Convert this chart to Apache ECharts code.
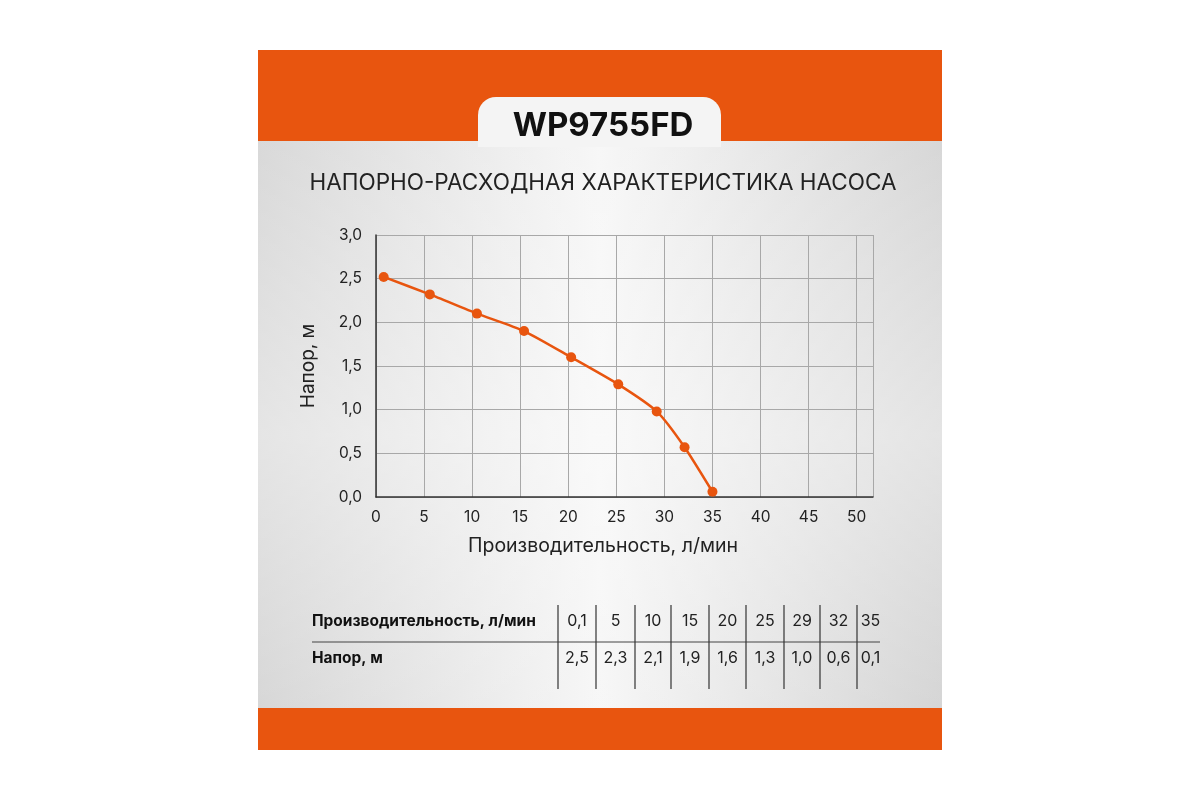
<!DOCTYPE html>
<html><head><meta charset="utf-8">
<script src="https://cdn.jsdelivr.net/npm/echarts@6/dist/echarts.min.js"></script>
<style>html,body{margin:0;background:#fff}#c{width:1200px;height:800px}</style></head>
<body><div id="c"></div>
<script>
const flow = [0.8, 5.6, 10.5, 15.4, 20.3, 25.2, 29.2, 32.1, 35.0];
const head = [2.52, 2.32, 2.1, 1.9, 1.6, 1.29, 0.98, 0.57, 0.06];
const tableFlow = ['0,1','5','10','15','20','25','29','32','35'];
const tableHead = ['2,5','2,3','2,1','1,9','1,6','1,3','1,0','0,6','0,1'];
const colSeps = [558,596,635,671,709,746,784,820,857,884];
const ORANGE = '#E8550F';
const fmt = v => v.toFixed(1).replace('.', ',');

const g = [
  {type:'rect',z:-10,shape:{x:258,y:50,width:684,height:700},style:{fill:{type:'linear',x:0,y:0,x2:1,y2:0,colorStops:[{offset:0,color:'#d0d0d0'},{offset:0.5,color:'#f5f5f5'},{offset:1,color:'#cecece'}]}}},
  {type:'rect',z:-9,shape:{x:258,y:50,width:684,height:700},style:{fill:{type:'linear',x:0,y:0,x2:0,y2:1,colorStops:[{offset:0,color:'rgba(255,255,255,0.1)'},{offset:0.55,color:'rgba(255,255,255,0.45)'},{offset:1,color:'rgba(255,255,255,0.1)'}]}}},
  {type:'rect',z:-8,shape:{x:258,y:50,width:684,height:91},style:{fill:ORANGE}},
  {type:'rect',z:-8,shape:{x:258,y:708,width:684,height:42},style:{fill:ORANGE}},
  {type:'rect',z:-7,shape:{x:478,y:97,width:243,height:50,r:[18,18,0,0]},style:{fill:'#f4f4f4'}},
  {type:'text',style:{x:603,y:126,text:'WP9755FD',fill:'#111',font:'bold 33px Inter, Roboto, sans-serif',align:'center',verticalAlign:'middle'}},
  {type:'text',style:{x:603,y:183,text:'НАПОРНО-РАСХОДНАЯ ХАРАКТЕРИСТИКА НАСОСА',fill:'#222',font:'22.5px Inter, Roboto, sans-serif',align:'center',verticalAlign:'middle'}},
  {type:'text',style:{x:603,y:546,text:'Производительность, л/мин',fill:'#222',font:'19.5px Inter, Roboto, sans-serif',align:'center',verticalAlign:'middle'}},
  {type:'text',style:{x:312,y:621,text:'Производительность, л/мин',fill:'#111',font:'bold 15.5px Inter, Roboto, sans-serif',verticalAlign:'middle'}},
  {type:'text',style:{x:312,y:658,text:'Напор, м',fill:'#111',font:'bold 15.5px Inter, Roboto, sans-serif',verticalAlign:'middle'}},
  {type:'line',shape:{x1:312,y1:642,x2:880,y2:642},style:{stroke:'#444',lineWidth:1.2}}
];
for (let i = 0; i < colSeps.length - 1; i++) {
  g.push({type:'line',shape:{x1:colSeps[i],y1:605,x2:colSeps[i],y2:689},style:{stroke:'#333',lineWidth:1.2}});
  const cx = (colSeps[i] + colSeps[i+1]) / 2;
  g.push({type:'text',style:{x:cx,y:621,text:tableFlow[i],fill:'#222',font:'16px Inter, Roboto, sans-serif',align:'center',verticalAlign:'middle'}});
  g.push({type:'text',style:{x:cx,y:658,text:tableHead[i],fill:'#222',font:'16px Inter, Roboto, sans-serif',align:'center',verticalAlign:'middle'}});
}

const chart = echarts.init(document.getElementById('c'));
chart.setOption({
  animation:false,
  graphic:g,
  grid:{left:376,right:327,top:235,bottom:303},
  xAxis:{type:'value',min:0,max:51.7,interval:5,
    axisLine:{lineStyle:{color:'#333',width:1.5}},axisTick:{show:false},
    axisLabel:{fontSize:15.5,color:'#222',margin:12,showMaxLabel:false,fontFamily:'Inter, Roboto, sans-serif'},
    splitLine:{show:true,lineStyle:{color:'#a8a8a8',width:1}}},
  yAxis:{type:'value',min:0,max:3,interval:0.5,
    name:'Напор, м',nameLocation:'middle',nameGap:58,nameRotate:90,
    nameTextStyle:{fontSize:19,color:'#222',fontFamily:'Inter, Roboto, sans-serif'},
    axisLine:{show:true,lineStyle:{color:'#333',width:1.5}},axisTick:{show:false},
    axisLabel:{fontSize:15.5,color:'#222',margin:14,formatter:fmt,fontFamily:'Inter, Roboto, sans-serif'},
    splitLine:{show:true,lineStyle:{color:'#a8a8a8',width:1}}},
  series:[{type:'line',data:flow.map((x,i)=>[x,head[i]]),smooth:0.2,
    symbol:'circle',symbolSize:10,lineStyle:{color:ORANGE,width:2.5},itemStyle:{color:ORANGE}}]
});
</script></body></html>
